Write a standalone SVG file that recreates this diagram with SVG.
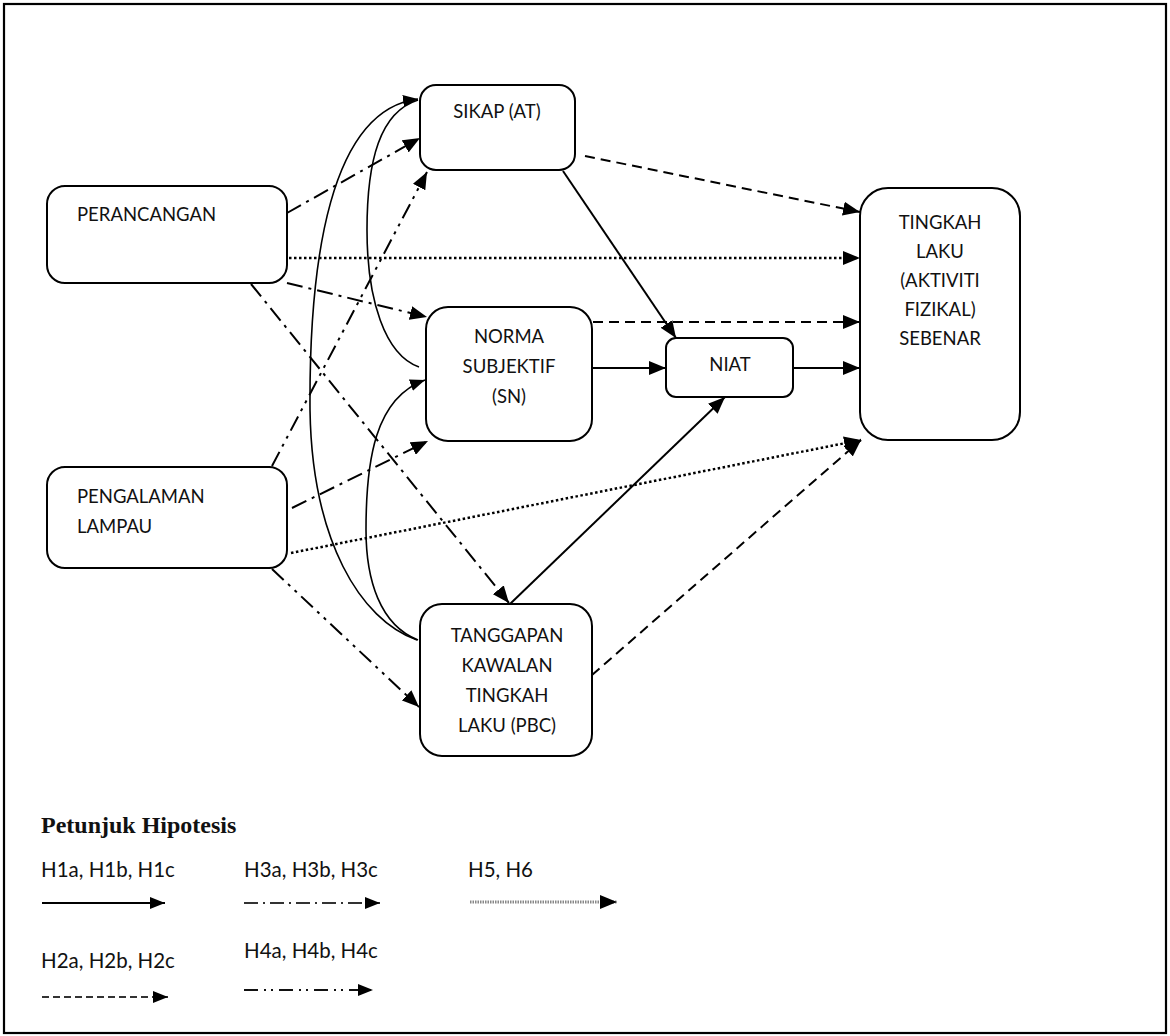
<svg xmlns="http://www.w3.org/2000/svg" width="1170" height="1036" viewBox="0 0 1170 1036">
<style>
.box{fill:#fff;stroke:#000;stroke-width:2}
.t{font-family:Lato,"Open Sans","Liberation Sans",sans-serif;font-size:18.5px;fill:#111}
.tc{text-anchor:middle}
.lg{font-family:Lato,"Open Sans","Liberation Sans",sans-serif;font-size:20.5px;fill:#111}
.c{fill:none;stroke:#000;stroke-width:2}
.cv{fill:none;stroke:#000;stroke-width:1.6}
.d2{stroke-dasharray:10 6}
.d5{stroke-dasharray:2.5 2.5;stroke-width:2.5}
.d3{stroke-dasharray:16 6 3 6}
.d4{stroke-dasharray:16 6 3 6 3 6}
</style>
<defs>
<marker id="ah" markerUnits="userSpaceOnUse" markerWidth="18" markerHeight="14" refX="17" refY="7" orient="auto">
<path d="M0,0 L17,7 L0,14 z" fill="#000"/>
</marker>
<marker id="ahl" markerUnits="userSpaceOnUse" markerWidth="16" markerHeight="12" refX="15" refY="6" orient="auto">
<path d="M0,0 L15,6 L0,12 z" fill="#000"/>
</marker>
</defs>
<rect x="0" y="0" width="1170" height="1036" fill="#fff"/>
<rect x="4" y="4" width="1162" height="1029" fill="none" stroke="#000" stroke-width="2.2"/>

<g id="connectors">
<!-- H1 solid -->
<line class="c" x1="563" y1="171" x2="676" y2="338" marker-end="url(#ah)"/>
<line class="c" x1="592" y1="368" x2="666" y2="368" marker-end="url(#ah)"/>
<line class="c" x1="793" y1="368" x2="860" y2="368" marker-end="url(#ah)"/>
<line class="c" x1="510" y1="604" x2="725" y2="397" marker-end="url(#ah)"/>
<!-- H2 dashed -->
<line class="c d2" x1="585" y1="156" x2="860" y2="212" marker-end="url(#ah)"/>
<line class="c d2" x1="593" y1="322" x2="860" y2="322" marker-end="url(#ah)"/>
<line class="c d2" x1="592" y1="675" x2="861" y2="440" marker-end="url(#ah)"/>
<!-- H5 dotted -->
<line class="c d5" x1="289" y1="258" x2="860" y2="258" marker-end="url(#ah)"/>
<line class="c d5" x1="291" y1="553" x2="861" y2="440" marker-end="url(#ah)"/>
<!-- H3 dash-dot -->
<line class="c d3" x1="287" y1="213" x2="420" y2="138" marker-end="url(#ah)"/>
<line class="c d3" x1="287" y1="283" x2="427" y2="317" marker-end="url(#ah)"/>
<line class="c d3" x1="251" y1="284" x2="509" y2="603" marker-end="url(#ah)"/>
<!-- H4 dash-dot-dot -->
<line class="c d4" x1="272" y1="466" x2="427" y2="172" marker-end="url(#ah)"/>
<line class="c d3" x1="292" y1="508" x2="428" y2="441" marker-end="url(#ah)"/>
<line class="c d4" x1="272" y1="569" x2="419" y2="707" marker-end="url(#ah)"/>
<!-- curved correlations -->
<path class="cv" d="M417,640 C360,620 312,540 310,410 C309,260 330,110 418,99" marker-end="url(#ahl)"/>
<path class="cv" d="M418,640 C380,625 366,580 366,530 C366,460 375,398 425,380" marker-end="url(#ahl)"/>
<path class="cv" d="M419,367 C385,355 367,300 367,230 C367,160 380,112 418,100"/>
</g>

<g id="sikap">
<rect class="box" x="420" y="85" width="155" height="85" rx="16"/>
<text class="t tc" x="497" y="118">SIKAP (AT)</text>
</g>
<g id="perancangan">
<rect class="box" x="47" y="186" width="240" height="97" rx="18"/>
<text class="t" x="77" y="221">PERANCANGAN</text>
</g>
<g id="pengalaman">
<rect class="box" x="47" y="467" width="240" height="101" rx="18"/>
<text class="t" x="77" y="503">PENGALAMAN</text>
<text class="t" x="77" y="533">LAMPAU</text>
</g>
<g id="norma">
<rect class="box" x="426" y="307" width="166" height="134" rx="22"/>
<text class="t tc" x="509" y="343">NORMA</text>
<text class="t tc" x="509" y="373">SUBJEKTIF</text>
<text class="t tc" x="509" y="403">(SN)</text>
</g>
<g id="tanggapan">
<rect class="box" x="420" y="604" width="172" height="152" rx="22"/>
<text class="t tc" x="507" y="642">TANGGAPAN</text>
<text class="t tc" x="507" y="672">KAWALAN</text>
<text class="t tc" x="507" y="702">TINGKAH</text>
<text class="t tc" x="507" y="732">LAKU (PBC)</text>
</g>
<g id="niat">
<rect class="box" x="666" y="338" width="127" height="59" rx="10"/>
<text class="t tc" x="730" y="371">NIAT</text>
</g>
<g id="tingkah">
<rect class="box" x="860" y="188" width="160" height="252" rx="28"/>
<text class="t tc" x="940" y="229">TINGKAH</text>
<text class="t tc" x="940" y="258">LAKU</text>
<text class="t tc" x="940" y="287">(AKTIVITI</text>
<text class="t tc" x="940" y="316">FIZIKAL)</text>
<text class="t tc" x="940" y="345">SEBENAR</text>
</g>

<g id="legend">
<text x="41" y="833" font-family="'Liberation Serif','Times New Roman',serif" font-weight="bold" font-size="24" fill="#111">Petunjuk Hipotesis</text>
<text class="lg" x="41" y="877">H1a, H1b, H1c</text>
<text class="lg" x="244" y="877">H3a, H3b, H3c</text>
<text class="lg" x="468" y="877">H5, H6</text>
<text class="lg" x="41" y="968">H2a, H2b, H2c</text>
<text class="lg" x="244" y="958">H4a, H4b, H4c</text>
<line x1="42" y1="903" x2="165" y2="903" stroke="#000" stroke-width="2" marker-end="url(#ahl)"/>
<line x1="244" y1="903" x2="380" y2="903" stroke="#333" stroke-width="2" stroke-dasharray="14 5 2 5" marker-end="url(#ahl)"/>
<line x1="470" y1="902" x2="617" y2="902" stroke="#888" stroke-width="3" stroke-dasharray="1.5 1" marker-end="url(#ah)"/>
<line x1="42" y1="997" x2="168" y2="997" stroke="#333" stroke-width="2" stroke-dasharray="7 4" marker-end="url(#ahl)"/>
<line x1="244" y1="990" x2="373" y2="990" stroke="#111" stroke-width="2" stroke-dasharray="14 6 2 5 2 6" marker-end="url(#ahl)"/>
</g>
</svg>
